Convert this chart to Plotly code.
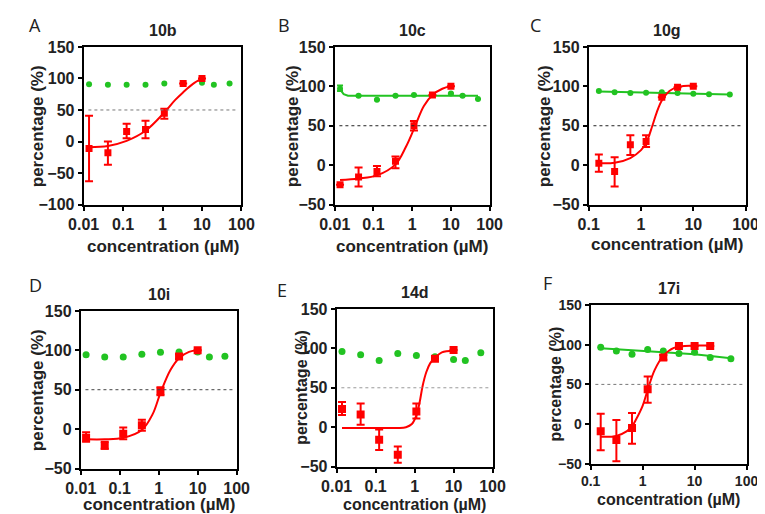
import plotly.graph_objects as go

RED = "#ff0000"
GREEN = "#22c322"

# ---- data ----
# A: 10b
a_x_red = [0.0137, 0.0412, 0.123, 0.37, 1.11, 3.33, 10]
a_y_red = [-11, -18, 16, 19, 45, 92, 100]
a_err_up = [52, 18, 12, 14, 7, 0, 0]
a_err_dn = [52, 19, 11, 14, 9, 0, 0]
a_x_green = [0.0137, 0.0412, 0.123, 0.37, 1.11, 3.33, 10, 20, 50]
a_y_green = [91, 90, 90, 90, 92, 92, 93, 90, 92]
a_fit_x = [0.0137, 0.0412, 0.123, 0.37, 1.11, 2.1, 3.33, 5.8, 10]
a_fit_y = [-9, -7, 1, 17, 46, 66, 78, 91, 100]

# B: 10c
b_x_red = [0.0137, 0.0412, 0.123, 0.37, 1.11, 3.33, 10]
b_y_red = [-25, -15, -8, 5, 50, 89, 100]
b_err_up = [0, 12, 7, 6, 6, 0, 0]
b_err_dn = [0, 12, 6, 9, 6, 0, 0]
b_x_green = [0.0137, 0.0412, 0.123, 0.37, 1.11, 3.33, 10, 20, 50]
b_y_green = [97, 88, 83, 88, 89, 89, 91, 88, 84]
b_gerr_up = [4, 0, 0, 0, 0, 0, 0, 0, 0]
b_gerr_dn = [3, 0, 0, 0, 0, 0, 0, 0, 0]
b_gfit_x = [0.0137, 0.017, 0.022, 50]
b_gfit_y = [96, 90, 88, 88]
b_fit_x = [0.0137, 0.0412, 0.123, 0.37, 0.7, 1.11, 2.0, 3.33, 6, 10]
b_fit_y = [-19, -17, -13, 1, 24, 46, 75, 89, 97, 100]

# C: 10g
c_x_red = [0.156, 0.3125, 0.625, 1.25, 2.5, 5, 10]
c_y_red = [2.5, -8, 26, 30, 86, 99, 100]
c_err_up = [11, 18, 12, 8, 0, 0, 0]
c_err_dn = [11, 19, 13, 7, 0, 0, 0]
c_x_green = [0.156, 0.3125, 0.625, 1.25, 2.5, 5, 10, 20, 50]
c_y_green = [94, 92.5, 91.5, 92, 92.5, 91.5, 90.5, 90, 89.5]
c_gfit_x = [0.156, 1, 10, 50]
c_gfit_y = [93.5, 92.3, 90.5, 89.5]
c_fit_x = [0.156, 0.3125, 0.625, 1.0, 1.25, 1.65, 2.0, 2.5, 3.5, 5, 10]
c_fit_y = [2.5, 3, 9, 19, 28, 50, 67, 82, 94, 99, 101]

# D: 10i
d_x_red = [0.0137, 0.0412, 0.123, 0.37, 1.11, 3.33, 10]
d_y_red = [-11, -21, -6, 5, 48, 92, 100]
d_err_up = [7, 5, 8, 7, 5, 3, 0]
d_err_dn = [5, 4, 7, 7, 5, 3, 0]
d_x_green = [0.0137, 0.0412, 0.123, 0.37, 1.11, 3.33, 10, 20, 50]
d_y_green = [94.5, 91.5, 91.5, 95, 97.5, 98, 98, 91.5, 92.5]
d_fit_x = [0.0137, 0.0412, 0.123, 0.37, 0.7, 1.11, 2.0, 3.33, 6, 10]
d_fit_y = [-13, -13, -11, -1, 19, 46, 75, 90, 98, 100]

# E: 14d
e_x_red = [0.0137, 0.0412, 0.123, 0.37, 1.11, 3.33, 10]
e_y_red = [23, 16, -16, -35, 20, 87, 98]
e_err_up = [9, 14, 13, 10.5, 10, 0, 0]
e_err_dn = [7.5, 13, 13, 10, 9, 0, 0]
e_x_green = [0.0137, 0.0412, 0.123, 0.37, 1.11, 3.33, 10, 20, 50]
e_y_green = [96, 92, 84.5, 93.5, 91, 89.5, 86, 84.5, 94.5]
e_fit_x = [0.0137, 0.123, 0.37, 0.6, 0.85, 1.11, 1.35, 1.6, 2.0, 2.5, 3.33, 5, 10]
e_fit_y = [-1, -1, -1, 0, 4, 15, 32, 52, 70, 81, 88, 95, 97]

# F: 17i
f_x_red = [0.156, 0.3125, 0.625, 1.25, 2.5, 5, 10, 20]
f_y_red = [-9, -20, -5, 44, 84, 98.5, 98.5, 98.5]
f_err_up = [22, 25, 19, 16, 3, 0, 0, 0]
f_err_dn = [24, 27, 20, 17, 3, 0, 0, 0]
f_x_green = [0.156, 0.3125, 0.625, 1.25, 2.5, 5, 10, 20, 50]
f_y_green = [97, 92, 88, 94, 92, 89, 90.5, 84, 82.5]
f_gfit_x = [0.156, 1, 10, 50]
f_gfit_y = [95.5, 92.5, 88, 83]
f_fit_x = [0.156, 0.3125, 0.5, 0.625, 0.75, 1.0, 1.25, 1.7, 2.5, 4, 10, 20]
f_fit_y = [-16, -15, -9, -3, 6, 23, 43, 68, 86, 96, 99, 99]

x_ticks_wide = [0.01, 0.1, 1, 10, 100]
x_ticks_narrow = [0.1, 1, 10, 100]

W, H = 765, 514

panels = [
    dict(letter="A", title="10b", box=(62, 226, 32, 195), yr=[-100, 150], xt=x_ticks_wide,
         red=(a_x_red, a_y_red, a_err_up, a_err_dn), green=(a_x_green, a_y_green, None, None),
         fit=(a_fit_x, a_fit_y), gfit=None, ms=(7, 6), letter_xy=(3, 9), xtitle_y=238, ytitle_x=14,
         dot="#777", tsize=17, fsize=16),
    dict(letter="B", title="10c", box=(323, 484, 32, 195), yr=[-50, 150], xt=x_ticks_wide,
         red=(b_x_red, b_y_red, b_err_up, b_err_dn), green=(b_x_green, b_y_green, b_gerr_up, b_gerr_dn),
         fit=(b_fit_x, b_fit_y), gfit=(b_gfit_x, b_gfit_y), ms=(7, 6), letter_xy=(262, 9), xtitle_y=238,
         ytitle_x=279, dot="#222", tsize=17, fsize=16),
    dict(letter="C", title="10g", box=(587, 750, 32, 195), yr=[-50, 150], xt=x_ticks_narrow,
         red=(c_x_red, c_y_red, c_err_up, c_err_dn), green=(c_x_green, c_y_green, None, None),
         fit=(c_fit_x, c_fit_y), gfit=(c_gfit_x, c_gfit_y), ms=(7, 6), letter_xy=(524, 9), xtitle_y=236,
         ytitle_x=541, dot="#222", tsize=17, fsize=16),
    dict(letter="D", title="10i", box=(59, 221, 305, 468), yr=[-50, 150], xt=x_ticks_wide,
         red=(d_x_red, d_y_red, d_err_up, d_err_dn), green=(d_x_green, d_y_green, None, None),
         fit=(d_fit_x, d_fit_y), gfit=None, ms=(8, 7), letter_xy=(3, 278), xtitle_y=505, ytitle_x=14,
         dot="#444", tsize=17, fsize=16),
    dict(letter="E", title="14d", box=(325, 487, 303, 466), yr=[-50, 150], xt=x_ticks_wide,
         red=(e_x_red, e_y_red, e_err_up, e_err_dn), green=(e_x_green, e_y_green, None, None),
         fit=(e_fit_x, e_fit_y), gfit=None, ms=(8, 7), letter_xy=(261, 283), xtitle_y=505, ytitle_x=289,
         dot="#999", tsize=16, fsize=16),
    dict(letter="F", title="17i", box=(589, 751, 299, 463), yr=[-50, 150], xt=x_ticks_narrow,
         red=(f_x_red, f_y_red, f_err_up, f_err_dn), green=(f_x_green, f_y_green, None, None),
         fit=(f_fit_x, f_fit_y), gfit=(f_gfit_x, f_gfit_y), ms=(8, 7), letter_xy=(537, 276), xtitle_y=500,
         ytitle_x=552, dot="#777", tsize=16, fsize=14),
]

fig = go.Figure()
bold = dict(family="Liberation Sans, Arial, sans-serif", size=16, color="#222", weight="bold")
annotations = []
shapes = []

for i, p in enumerate(panels, start=1):
    xa = "x" if i == 1 else f"x{i}"
    ya = "y" if i == 1 else f"y{i}"
    x0, x1, y0, y1 = p["box"]
    xmin = p["xt"][0]
    tick_font = dict(bold, size=p["fsize"])

    fig.update_layout({
        f"xaxis{'' if i == 1 else i}": dict(
            domain=[x0 / W, x1 / W], anchor=ya, type="log",
            range=[-2 if xmin == 0.01 else -1, 2],
            tickvals=p["xt"], ticktext=[f"{v:g}" for v in p["xt"]],
            showline=True, linewidth=2, linecolor="black", mirror=True,
            ticks="outside", ticklen=4, tickwidth=2, tickcolor="black",
            showgrid=False, zeroline=False, tickfont=tick_font),
        f"yaxis{'' if i == 1 else i}": dict(
            domain=[1 - y1 / H, 1 - y0 / H], anchor=xa, range=p["yr"], dtick=50,
            showline=True, linewidth=2, linecolor="black", mirror=True,
            ticks="outside", ticklen=4, tickwidth=2, tickcolor="black",
            showgrid=False, zeroline=False, tickfont=tick_font),
    })

    # dotted 50% reference line
    shapes.append(dict(type="line", xref=f"{xa} domain", yref=ya, x0=0.03, x1=0.98, y0=50, y1=50,
                       line=dict(color=p["dot"], width=1, dash="dot")))

    gx, gy, gup, gdn = p["green"]
    if p["gfit"]:
        fig.add_trace(go.Scatter(x=p["gfit"][0], y=p["gfit"][1], mode="lines",
                                 line=dict(color=GREEN, width=2), xaxis=xa, yaxis=ya))
    g_err = None
    if gup:
        g_err = dict(type="data", array=gup, arrayminus=gdn, color=GREEN, thickness=2, width=3)
    fig.add_trace(go.Scatter(x=gx, y=gy, mode="markers", error_y=g_err,
                             marker=dict(symbol="circle", size=p["ms"][1], color=GREEN),
                             xaxis=xa, yaxis=ya))

    fx, fy = p["fit"]
    fig.add_trace(go.Scatter(x=fx, y=fy, mode="lines", line=dict(color=RED, width=2, shape="spline"),
                             xaxis=xa, yaxis=ya))
    rx, ry, rup, rdn = p["red"]
    fig.add_trace(go.Scatter(x=rx, y=ry, mode="markers",
                             error_y=dict(type="data", array=rup, arrayminus=rdn, color=RED,
                                          thickness=2, width=4),
                             marker=dict(symbol="square", size=p["ms"][0], color=RED),
                             xaxis=xa, yaxis=ya))

    cx = (x0 + x1) / 2 / W
    annotations += [
        dict(text=p["title"], x=cx, y=1 - (y0 - 17) / H, xref="paper", yref="paper",
             showarrow=False, font=dict(bold, size=16), xanchor="center", yanchor="middle"),
        dict(text=p["letter"], x=p["letter_xy"][0] / W, y=1 - p["letter_xy"][1] / H,
             xref="paper", yref="paper", showarrow=False, xanchor="left", yanchor="middle",
             font=dict(family="Open Sans, sans-serif", size=18, color="#222")),
        dict(text="concentration (µM)", x=cx, y=1 - p["xtitle_y"] / H, xref="paper", yref="paper",
             showarrow=False, font=dict(bold, size=p["tsize"]), xanchor="center", yanchor="middle"),
        dict(text="percentage (%)", x=p["ytitle_x"] / W, y=1 - (y0 + y1) / 2 / H, xref="paper",
             yref="paper", showarrow=False, textangle=-90, font=dict(bold, size=p["tsize"]),
             xanchor="center", yanchor="middle"),
    ]

fig.update_layout(width=W, height=H, margin=dict(l=0, r=0, t=0, b=0),
                  plot_bgcolor="white", paper_bgcolor="white", showlegend=False,
                  annotations=annotations, shapes=shapes)

fig.write_html("out.html")
